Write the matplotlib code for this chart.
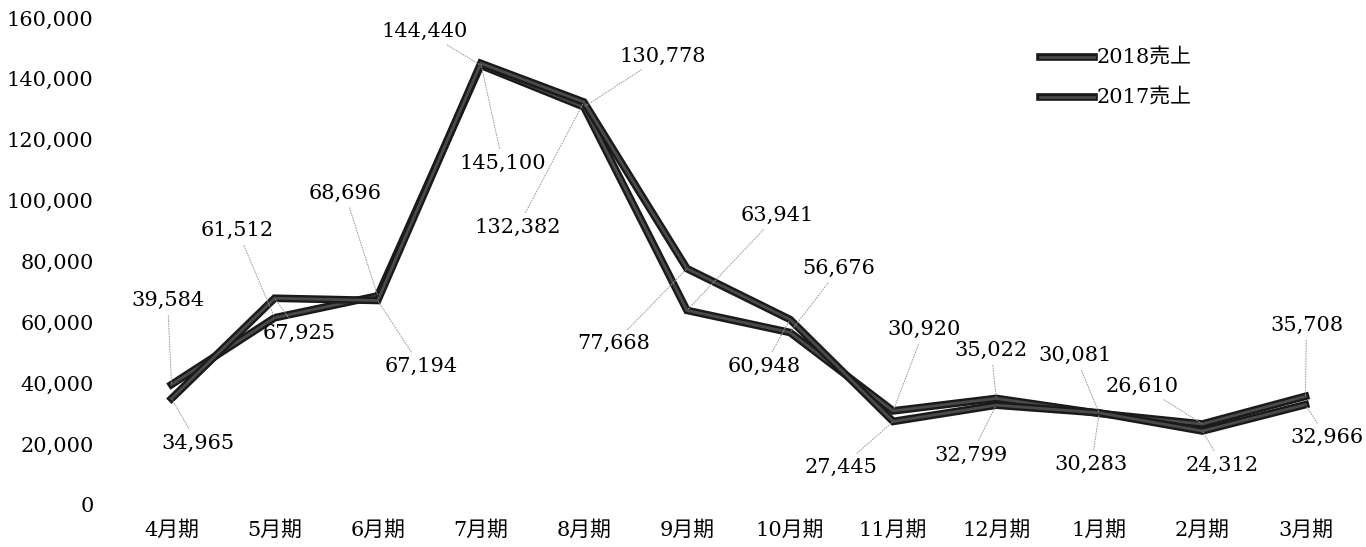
import matplotlib.pyplot as plt
import matplotlib.patheffects as pe
from matplotlib.ticker import FuncFormatter

# --- data ---
months = ['4月期', '5月期', '6月期', '7月期', '8月期', '9月期',
          '10月期', '11月期', '12月期', '1月期', '2月期', '3月期']
sales_2018 = [39584, 61512, 68696, 144440, 130778, 63941,
              56676, 30920, 35022, 30081, 26610, 35708]
sales_2017 = [34965, 67925, 67194, 145100, 132382, 77668,
              60948, 27445, 32799, 30283, 24312, 32966]

# label offsets in pixels (dx, dy)
offs_2018 = [(-4, 84), (-37, 87), (-33, 103), (-56, 34), (79, 51), (90, 95),
             (49, 64), (31, 81), (-5, 48), (-24, 58), (-60, 38), (1, 71)]
offs_2017 = [(26, -45), (25, -35), (43, -66), (22, -100), (-66, -125), (-73, -75),
             (-26, -47), (-52, -46), (-25, -50), (-8, -52), (20, -34), (21, -33)]

plt.rcParams['font.family'] = ['DejaVu Serif', 'Noto Sans CJK JP']

fig = plt.figure(figsize=(13.66, 5.47), dpi=100, facecolor='white')
ax = fig.add_axes([120 / 1366, 42 / 547, 1237 / 1366, 487 / 547])

x = list(range(len(months)))
line_fx = [pe.Stroke(linewidth=5.5, foreground='#1a1a1a'), pe.Normal()]
ax.plot(x, sales_2018, color='#4a4a4a', lw=2, label='2018売上',
        path_effects=line_fx, solid_joinstyle='miter', zorder=3)
ax.plot(x, sales_2017, color='#4a4a4a', lw=2, label='2017売上',
        path_effects=line_fx, solid_joinstyle='miter', zorder=3)

# data labels with faint leader lines
for series, offs in ((sales_2018, offs_2018), (sales_2017, offs_2017)):
    for i, (v, (dx, dy)) in enumerate(zip(series, offs)):
        ax.annotate(f'{v:,}', xy=(i, v), xytext=(dx, dy), textcoords='offset pixels',
                    ha='center', va='center', fontsize=15, color='#000',
                    arrowprops=dict(arrowstyle='-', color='#999', lw=0.7,
                                    linestyle=':', shrinkA=2, shrinkB=1),
                    zorder=4)

ax.set_xlim(-0.5, len(months) - 0.5)
ax.set_ylim(0, 160000)
ax.set_yticks(range(0, 160001, 20000))
ax.yaxis.set_major_formatter(FuncFormatter(lambda v, p: f'{int(v):,}'))
ax.set_xticks(x)
ax.set_xticklabels(months)
ax.tick_params(axis='y', length=0, pad=19, labelsize=15, labelcolor='#000')
ax.tick_params(axis='x', length=0, pad=11, labelsize=15, labelcolor='#000')
for s in ax.spines.values():
    s.set_visible(False)

ax.legend(loc='upper left', bbox_to_anchor=(1040 / 1366, 1 - 49 / 547),
          bbox_transform=fig.transFigure, frameon=False, fontsize=15,
          handlelength=2.6, handletextpad=0.1, labelspacing=1.0,
          borderpad=0, borderaxespad=0)

fig.savefig('out.png', dpi=100, facecolor='white')
